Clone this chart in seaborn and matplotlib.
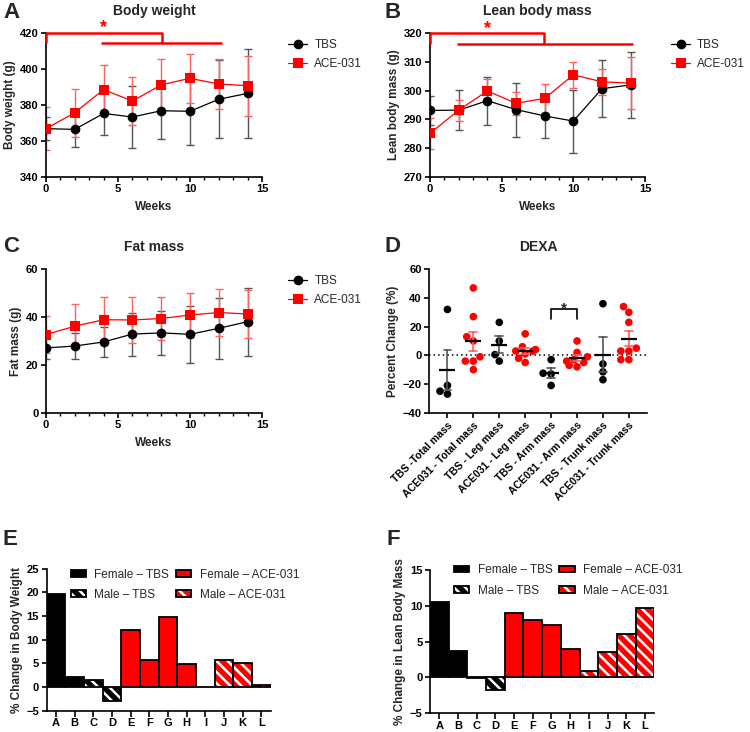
import numpy as np
import pandas as pd
import matplotlib
matplotlib.use("Agg")
import matplotlib.pyplot as plt
import seaborn as sns
from matplotlib.patches import Patch
from matplotlib.legend_handler import HandlerTuple
from matplotlib.ticker import MultipleLocator

# ---- data ----
weeks = [0, 2, 4, 6, 8, 10, 12, 14]

bw_tbs = [366.8, 366.4, 375.3, 373.3, 376.8, 376.5, 383.2, 386.5]
bw_tbs_sd = [6.3, 10.0, 12.0, 17.3, 16.0, 18.8, 21.8, 25.0]
bw_ace = [366.8, 375.7, 388.6, 382.2, 391.2, 394.9, 391.7, 390.8]
bw_ace_sd = [12.0, 13.4, 13.5, 13.2, 14.7, 13.8, 14.2, 16.7]

lean_tbs = [293.1, 293.2, 296.5, 293.4, 291.2, 289.4, 300.7, 302.0]
lean_tbs_sd = [5.0, 7.0, 8.3, 9.4, 7.7, 11.0, 10.0, 11.6]
lean_ace = [285.1, 293.2, 299.9, 295.6, 297.3, 305.5, 303.1, 302.6]
lean_ace_sd = [5.4, 3.7, 4.0, 4.0, 5.0, 4.6, 4.5, 9.1]

fat_tbs = [27.1, 27.9, 29.6, 32.9, 33.4, 32.8, 35.3, 38.1]
fat_tbs_sd = [4.5, 5.3, 6.2, 9.0, 9.1, 11.8, 12.9, 14.2]
fat_ace = [32.7, 36.2, 38.9, 38.8, 39.4, 40.9, 41.9, 41.3]
fat_ace_sd = [7.8, 9.2, 9.5, 9.7, 9.0, 9.3, 9.8, 10.2]

dexa_groups = ["TBS -Total mass", "ACE031 - Total mass", "TBS - Leg mass",
               "ACE031 - Leg mass", "TBS - Arm mass", "ACE031 - Arm mass",
               "TBS - Trunk mass", "ACE031 - Trunk mass"]
dexa_points = [
    [32, -21, -25, -27],
    [47, 27, 13, 10, -1, -4, -4, -10],
    [23, 10, 0.5, -4],
    [15, 6, 4, 3, 3, 1, -2, -5],
    [-3, -12.5, -13, -21],
    [10, 2, -1, -3, -4, -5, -7, -8],
    [36, -6, -11.5, -17],
    [34, 30, 23, 5, 3, 3, -3, -3],
]

subjects = list("ABCDEFGHIJKL")
subject_group = (["Female – TBS"] * 2 + ["Male – TBS"] * 2 +
                 ["Female – ACE-031"] * 4 + ["Male – ACE-031"] * 4)
bw_change = [19.7, 2.2, 1.5, -2.9, 12.1, 5.8, 14.9, 4.8, 0.0, 5.8, 5.1, 0.4]
lean_change = [10.5, 3.7, -0.1, -1.8, 9.0, 8.0, 7.3, 4.0, 0.9, 3.5, 6.0, 9.7]

RED = "#ff0000"
HATCH = "\\\\\\"

sns.set_style("ticks")
plt.rcParams.update({
    "font.family": ["Liberation Sans", "DejaVu Sans"],
    "font.weight": "bold",
    "axes.titleweight": "bold",
    "axes.labelweight": "bold",
    "axes.titlesize": 10,
    "axes.labelsize": 8.5,
    "axes.labelpad": 2.5,
    "xtick.labelsize": 8,
    "ytick.labelsize": 8,
    "axes.linewidth": 1.2,
    "axes.edgecolor": "black",
    "xtick.color": "black",
    "ytick.color": "black",
    "xtick.major.width": 1.2,
    "ytick.major.width": 1.2,
    "xtick.minor.width": 1.0,
    "xtick.major.size": 3.5,
    "ytick.major.size": 3.5,
    "xtick.minor.size": 2.2,
    "xtick.major.pad": 2,
    "ytick.major.pad": 2,
    "hatch.linewidth": 1.8,
})

fig = plt.figure(figsize=(7.5, 7.32), dpi=100)
W, H = 750, 732


def rect(l, t, r, b):
    return [l / W, 1 - b / H, (r - l) / W, (b - t) / H]


axA = fig.add_axes(rect(46, 33.3, 262, 176.7))
axB = fig.add_axes(rect(430, 33.3, 645, 176.7))
axC = fig.add_axes(rect(46, 269.3, 262, 412.7))
axD = fig.add_axes(rect(429.3, 269.3, 647, 412.7))
axE = fig.add_axes(rect(46.7, 568.7, 270.7, 710.7))
axF = fig.add_axes(rect(430, 570, 654.3, 713.3))


def time_course(ax, tbs, tbs_sd, ace, ace_sd, title, ylabel, ylim, ystep):
    series = [("TBS", tbs, tbs_sd, "black", "#555555", "o"),
              ("ACE-031", ace, ace_sd, RED, "#ff6060", "s")]
    for name, vals, sd, col, ecol, mk in series:
        ax.errorbar(weeks, vals, yerr=sd, fmt="none", ecolor=ecol,
                    elinewidth=1, capsize=3, capthick=1, zorder=2)
        sns.lineplot(x=weeks, y=vals, color=col, marker=mk, markersize=7,
                     markeredgewidth=0, linewidth=0.9, label=name, ax=ax,
                     zorder=3)
    ax.set_xlim(0, 15)
    ax.set_ylim(*ylim)
    ax.xaxis.set_major_locator(MultipleLocator(5))
    ax.xaxis.set_minor_locator(MultipleLocator(1))
    ax.yaxis.set_major_locator(MultipleLocator(ystep))
    ax.set_xlabel("Weeks", labelpad=5)
    ax.set_ylabel(ylabel)
    ax.set_title(title, pad=13.5)
    sns.despine(ax=ax)
    ax.legend(loc="upper left", bbox_to_anchor=(1.1, 0.99), frameon=False,
              prop={"weight": "normal", "size": 8.5}, handlelength=1.6,
              handletextpad=0.6, labelspacing=0.55, borderaxespad=0)


def sig_bracket(ax, y_top, y_low, x_end, x_lo, x_hi, star_y):
    kw = dict(color=RED, lw=1.8, clip_on=False, zorder=5, solid_capstyle="butt")
    ax.plot([0, 0, x_end, x_end], [y_low, y_top, y_top, y_low], **kw)
    ax.plot([x_lo, x_hi], [y_low, y_low], **kw)
    ax.text(4, star_y, "*", color=RED, ha="center", va="center",
            fontsize=13, clip_on=False)


time_course(axA, bw_tbs, bw_tbs_sd, bw_ace, bw_ace_sd, "Body weight",
            "Body weight (g)", (340, 420), 20)
sig_bracket(axA, 420, 414.4, 8.05, 3.8, 12.25, 423.2)

time_course(axB, lean_tbs, lean_tbs_sd, lean_ace, lean_ace_sd,
            "Lean body mass", "Lean body mass (g)", (270, 320), 10)
sig_bracket(axB, 320, 316.2, 7.95, 1.85, 14.15, 321.8)

time_course(axC, fat_tbs, fat_tbs_sd, fat_ace, fat_ace_sd, "Fat mass",
            "Fat mass (g)", (0, 60), 20)

# ---- D: DEXA scatter with mean +/- SEM ----
dexa_df = pd.DataFrame({
    "group": [g for g, pts in zip(dexa_groups, dexa_points) for _ in pts],
    "value": [v for pts in dexa_points for v in pts],
})
pt_colors = ["black", RED] * 4
err_colors = ["#555555", "#ff6060"] * 4
sns.swarmplot(data=dexa_df, x="group", y="value", hue="group",
              palette=pt_colors, order=dexa_groups, size=5.5, legend=False,
              ax=axD, zorder=2)
sns.pointplot(data=dexa_df, x="group", y="value", hue="group",
              palette=err_colors, order=dexa_groups, errorbar="se",
              capsize=0.3, linestyle="none", marker="none",
              err_kws={"linewidth": 1.2}, legend=False, ax=axD)
sns.pointplot(data=dexa_df, x="group", y="value", order=dexa_groups,
              errorbar=None, color="black", linestyle="none", marker="_",
              markersize=12, markeredgewidth=1.6, ax=axD)
axD.axhline(0, color="black", lw=1.1, ls=(0, (1, 2)), zorder=1)
axD.plot([4, 4, 5, 5], [25, 32, 32, 25], color="black", lw=1.2)
axD.text(4.5, 33, "*", ha="center", va="center", fontsize=11)
axD.set_xlim(-0.7, 7.7)
axD.set_ylim(-40, 60)
axD.yaxis.set_major_locator(MultipleLocator(20))
axD.set_xticks(range(len(dexa_groups)))
axD.set_xticklabels(dexa_groups, rotation=45, ha="right",
                    rotation_mode="anchor", fontsize=7.5)
axD.set_xlabel("")
axD.set_ylabel("Percent Change (%)")
axD.set_title("DEXA", pad=13.5)
sns.despine(ax=axD)

# ---- E/F: individual % change bars ----
group_fill = {"Female – TBS": "black", "Male – TBS": "black",
              "Female – ACE-031": RED, "Male – ACE-031": RED}
legend_order = ["Female – TBS", "Male – TBS", "Female – ACE-031", "Male – ACE-031"]


def change_bars(ax, values, ylabel, ylim, legend_anchor):
    df = pd.DataFrame({"subject": subjects, "value": values, "group": subject_group})
    fills = [group_fill[g] for g in subject_group]
    sns.barplot(data=df, x="subject", y="value", hue="subject", palette=fills,
                saturation=1, width=1.0, edgecolor="white", linewidth=0,
                errorbar=None, legend=False, ax=ax)
    for patch, g in zip(ax.patches, subject_group):
        if g.startswith("Male"):
            patch.set_hatch(HATCH)
    sns.barplot(data=df, x="subject", y="value", width=1.0, fill=False,
                color="black", linewidth=1.3, errorbar=None, ax=ax)
    ax.set_ylim(*ylim)
    ax.yaxis.set_major_locator(MultipleLocator(5))
    ax.set_xlim(-0.5, 11.5)
    ax.set_xlabel("")
    ax.set_ylabel(ylabel)
    ax.tick_params(axis="x", length=4.5, pad=1)
    sns.despine(ax=ax)
    handles = []
    for g in legend_order:
        if g.startswith("Male"):
            handles.append((Patch(facecolor=group_fill[g], edgecolor="white",
                                  hatch=HATCH, lw=0),
                            Patch(facecolor="none", edgecolor="black", lw=1.3)))
        else:
            handles.append(Patch(facecolor=group_fill[g], edgecolor="black", lw=1.3))
    ax.legend(handles, legend_order, ncol=2, loc="upper left",
              bbox_to_anchor=legend_anchor, frameon=False,
              handler_map={tuple: HandlerTuple(ndivide=1, pad=0)},
              prop={"weight": "normal", "size": 8.5}, handlelength=1.3,
              handleheight=0.5, handletextpad=0.7, columnspacing=0.6,
              labelspacing=0.7, borderaxespad=0, borderpad=0)


change_bars(axE, bw_change, "% Change in Body Weight", (-5, 25), (0.107, 1.0))
change_bars(axF, lean_change, "% Change in Lean Body Mass", (-5, 15), (0.107, 1.04))

# ---- panel letters ----
for letter, x, y in [("A", 3, 2), ("B", 385, 2), ("C", 3, 236),
                     ("D", 385, 236), ("E", 3, 529), ("F", 387, 529)]:
    fig.text(x / W, 1 - y / H, letter, fontsize=16, fontweight="bold",
             va="top", ha="left")

fig.savefig("out.png", dpi=100)
